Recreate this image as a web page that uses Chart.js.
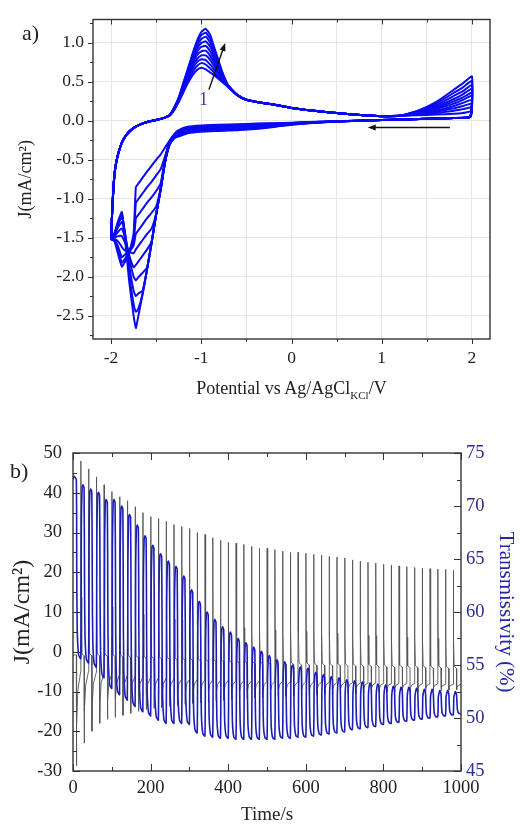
<!DOCTYPE html>
<html><head><meta charset="utf-8">
<script src="https://cdn.jsdelivr.net/npm/chart.js@4.4.1/dist/chart.umd.min.js"></script>
<style>
html,body{margin:0;padding:0;background:#fff;}
body{width:520px;height:825px;overflow:hidden;position:relative;font-family:'Liberation Serif','Times New Roman',serif;color:#222;}
canvas{position:absolute;left:0;}
#ca{top:0;} #cb{top:400px;}
.lbl{position:absolute;line-height:1;white-space:nowrap;}
</style></head>
<body>
<canvas id="ca" width="520" height="400"></canvas>
<canvas id="cb" width="520" height="425"></canvas>
<div class="lbl" style="left:22px;top:22px;font-size:22px;">a)</div>
<div class="lbl" style="left:10px;top:460px;font-size:22px;">b)</div>
<div class="lbl" style="left:93px;width:397px;top:379px;font-size:18px;text-align:center;">Potential vs Ag/AgCl<span style="font-size:11px;position:relative;top:5px;">KCl</span>/V</div>
<script>
// ---------------- Panel a: cyclic voltammograms ----------------
const xTickValsA = [-2, -1.5, -1, -0.5, 0, 0.5, 1, 1.5, 2];
const xTickLabelsA = ['-2', '', '-1', '', '0', '', '1', '', '2'];
const yTickValsA = [-2.75, -2.5, -2.25, -2, -1.75, -1.5, -1.25, -1, -0.75, -0.5, -0.25, 0, 0.25, 0.5, 0.75, 1, 1.25];
const yTickLabelsA = ['', '-2.5', '', '-2.0', '', '-1.5', '', '-1.0', '', '-0.5', '', '0.0', '', '0.5', '', '1.0', ''];

// anodic start, common to all cycles
const cvUpV = [-2.0, -1.985, -1.97, -1.95, -1.92, -1.88, -1.83, -1.76, -1.68, -1.58, -1.5, -1.42, -1.35];
const cvUpJ = [-1.52, -1.1, -0.8, -0.58, -0.42, -0.28, -0.18, -0.1, -0.05, -0.01, 0.01, 0.035, 0.07];
// anodic peak, one row per cycle (1 -> last)
const cvPeakV = [-1.3, -1.25, -1.2, -1.15, -1.1, -1.05, -1.0, -0.95, -0.9, -0.85, -0.8, -0.75, -0.7, -0.6, -0.5, -0.4];
const cvPeakJ = [
  [0.14, 0.24, 0.36, 0.48, 0.58, 0.65, 0.68, 0.66, 0.62, 0.58, 0.53, 0.48, 0.43, 0.33, 0.27, 0.245],
  [0.14, 0.25, 0.38, 0.51, 0.62, 0.70, 0.74, 0.72, 0.67, 0.61, 0.55, 0.49, 0.43, 0.33, 0.27, 0.245],
  [0.15, 0.26, 0.40, 0.54, 0.66, 0.75, 0.79, 0.78, 0.72, 0.65, 0.58, 0.51, 0.44, 0.33, 0.27, 0.245],
  [0.15, 0.26, 0.41, 0.56, 0.70, 0.79, 0.84, 0.84, 0.78, 0.69, 0.60, 0.52, 0.44, 0.33, 0.27, 0.245],
  [0.15, 0.27, 0.42, 0.58, 0.73, 0.84, 0.89, 0.90, 0.83, 0.73, 0.63, 0.53, 0.44, 0.33, 0.27, 0.245],
  [0.16, 0.27, 0.43, 0.60, 0.76, 0.88, 0.95, 0.96, 0.89, 0.77, 0.65, 0.54, 0.45, 0.33, 0.27, 0.245],
  [0.16, 0.28, 0.44, 0.62, 0.79, 0.92, 1.00, 1.02, 0.95, 0.81, 0.68, 0.55, 0.45, 0.33, 0.27, 0.245],
  [0.16, 0.29, 0.46, 0.63, 0.81, 0.96, 1.05, 1.08, 1.00, 0.85, 0.70, 0.56, 0.45, 0.33, 0.27, 0.245],
  [0.17, 0.29, 0.47, 0.65, 0.83, 0.99, 1.10, 1.13, 1.05, 0.89, 0.72, 0.57, 0.45, 0.33, 0.27, 0.245],
  [0.17, 0.30, 0.48, 0.66, 0.85, 1.02, 1.14, 1.18, 1.10, 0.92, 0.74, 0.57, 0.45, 0.33, 0.27, 0.245]
];
// plateau, common
const cvMidV = [-0.3, -0.2, 0, 0.2, 0.5, 0.8, 1.0, 1.2];
const cvMidJ = [0.225, 0.21, 0.165, 0.135, 0.1, 0.07, 0.06, 0.065];
// oxygen-evolution tail per cycle
const cvEndV = [1.4, 1.6, 1.8, 1.9, 2.0];
const cvEndJ = [
  [0.07, 0.08, 0.09, 0.10, 0.12],
  [0.08, 0.10, 0.13, 0.15, 0.17],
  [0.085, 0.115, 0.16, 0.19, 0.22],
  [0.09, 0.13, 0.19, 0.23, 0.27],
  [0.10, 0.15, 0.22, 0.27, 0.32],
  [0.105, 0.165, 0.25, 0.30, 0.36],
  [0.11, 0.18, 0.28, 0.34, 0.41],
  [0.12, 0.20, 0.32, 0.38, 0.46],
  [0.125, 0.22, 0.36, 0.43, 0.51],
  [0.13, 0.24, 0.40, 0.48, 0.57]
];
// reverse scan per cycle
const cvRetV = [1.98, 1.8, 1.5, 1.0, 0.5, 0.2, 0.0, -0.2, -0.4, -0.6, -0.8, -1.0, -1.15, -1.25];
const cvRetJ = [
  [0.05, 0.035, 0.025, 0.010, -0.005, -0.015, -0.025, -0.030, -0.035, -0.045, -0.050, -0.060, -0.075, -0.12],
  [0.05, 0.035, 0.025, 0.010, -0.006, -0.017, -0.028, -0.036, -0.044, -0.053, -0.059, -0.069, -0.084, -0.13],
  [0.05, 0.035, 0.025, 0.010, -0.006, -0.019, -0.031, -0.041, -0.052, -0.061, -0.068, -0.078, -0.093, -0.14],
  [0.05, 0.035, 0.025, 0.010, -0.007, -0.021, -0.034, -0.047, -0.060, -0.069, -0.077, -0.087, -0.102, -0.15],
  [0.05, 0.035, 0.025, 0.010, -0.007, -0.023, -0.037, -0.052, -0.068, -0.078, -0.086, -0.096, -0.111, -0.155],
  [0.05, 0.035, 0.025, 0.010, -0.008, -0.024, -0.040, -0.058, -0.075, -0.086, -0.095, -0.105, -0.120, -0.16],
  [0.05, 0.035, 0.025, 0.010, -0.008, -0.026, -0.042, -0.063, -0.083, -0.095, -0.104, -0.114, -0.130, -0.17],
  [0.05, 0.035, 0.025, 0.010, -0.009, -0.027, -0.045, -0.069, -0.090, -0.103, -0.113, -0.123, -0.140, -0.18],
  [0.05, 0.035, 0.025, 0.010, -0.009, -0.029, -0.048, -0.074, -0.098, -0.112, -0.122, -0.132, -0.150, -0.19],
  [0.05, 0.035, 0.025, 0.010, -0.010, -0.030, -0.050, -0.080, -0.105, -0.120, -0.130, -0.140, -0.160, -0.20]
];
// cathodic peak region per cycle
const cvCathV = [-1.3, -1.35, -1.4, -1.45, -1.5, -1.55, -1.6, -1.65, -1.7, -1.725, -1.75, -1.8, -1.85, -1.88, -1.92, -1.96, -2.0];
const cvCathJ = [
  [-0.17, -0.25, -0.34, -0.43, -0.50, -0.575, -0.65, -0.73, -0.81, -0.85, -1.45, -1.70, -1.82, -1.87, -1.72, -1.55, -1.52],
  [-0.18, -0.26, -0.45, -0.62, -0.70, -0.78, -0.85, -0.93, -1.01, -1.05, -1.50, -1.68, -1.78, -1.82, -1.68, -1.54, -1.52],
  [-0.19, -0.27, -0.48, -0.80, -0.90, -0.98, -1.05, -1.13, -1.21, -1.25, -1.55, -1.68, -1.72, -1.75, -1.62, -1.53, -1.52],
  [-0.20, -0.28, -0.50, -0.86, -1.10, -1.18, -1.25, -1.33, -1.41, -1.45, -1.60, -1.68, -1.66, -1.62, -1.55, -1.52, -1.52],
  [-0.21, -0.29, -0.51, -0.87, -1.19, -1.38, -1.45, -1.53, -1.61, -1.65, -1.70, -1.68, -1.55, -1.48, -1.48, -1.50, -1.52],
  [-0.21, -0.30, -0.52, -0.88, -1.20, -1.55, -1.65, -1.73, -1.81, -1.85, -1.88, -1.72, -1.48, -1.38, -1.42, -1.48, -1.52],
  [-0.22, -0.30, -0.52, -0.88, -1.20, -1.56, -1.88, -1.95, -2.01, -2.05, -2.00, -1.75, -1.42, -1.30, -1.36, -1.46, -1.52],
  [-0.22, -0.30, -0.52, -0.88, -1.20, -1.56, -1.90, -2.18, -2.22, -2.25, -2.18, -1.85, -1.40, -1.24, -1.32, -1.45, -1.52],
  [-0.22, -0.30, -0.52, -0.88, -1.20, -1.56, -1.90, -2.22, -2.42, -2.45, -2.35, -1.95, -1.42, -1.20, -1.30, -1.44, -1.52],
  [-0.22, -0.30, -0.52, -0.88, -1.20, -1.56, -1.90, -2.22, -2.52, -2.66, -2.50, -2.05, -1.45, -1.17, -1.28, -1.43, -1.52]
];
// annotations (data coordinates)
const arrowCycle = {from: [-0.915, 0.40], to: [-0.735, 1.0], label: '1', labelAt: [-0.975, 0.26]};
const arrowScan = {from: [1.755, -0.085], to: [0.845, -0.085]};

// ---------------- Panel b: chronoamperometry + transmittance ----------------
const xTickValsB = [0, 100, 200, 300, 400, 500, 600, 700, 800, 900, 1000];
const xTickLabelsB = ['0', '', '200', '', '400', '', '600', '', '800', '', '1000'];
const yTickValsB = [-30, -25, -20, -15, -10, -5, 0, 5, 10, 15, 20, 25, 30, 35, 40, 45, 50];
const yTickLabelsB = ['-30', '', '-20', '', '-10', '', '0', '', '10', '', '20', '', '30', '', '40', '', '50'];
const y1TickValsB = [45, 47.5, 50, 52.5, 55, 57.5, 60, 62.5, 65, 67.5, 70, 72.5, 75];
const y1TickLabelsB = ['45', '', '50', '', '55', '', '60', '', '65', '', '70', '', '75'];

const stepPeriod = 20;       // s, one colour/bleach cycle
const colourStart = 8.5;     // s, start of colouring step within a cycle
// positive (bleaching) current spikes, at t = 20, 40, ... 980 s
const posPeak = [48, 46, 44, 42, 40.3, 39, 38, 36.5, 35, 34, 33.5, 32.8, 32, 31.5, 31, 30, 29.5, 28.7, 28, 27.5,
  27.3, 27, 26.5, 26, 26, 25.7, 25.3, 25, 25, 24.8, 24.5, 24.3, 24, 23.8, 23.6, 23.1, 22.8, 22.5, 22.3, 22,
  21.8, 21.6, 21.4, 21.2, 21, 20.9, 20.8, 20.7, 20.5];
// negative (colouring) current spikes, at t = 8.5, 28.5, ... 988.5 s
const negPeak = [-28.7, -23, -20, -18, -17, -16.5, -16, -15.5, -15, -14.5, -14.2, -14, -13.7, -13.5, -13.2, -13, -12.8, -12.6, -12.4, -12.2,
  -12, -12, -11.8, -11.6, -11.5, -11.4, -11.3, -11.2, -11.1, -11, -11, -10.9, -10.8, -10.7, -10.6, -10.5, -10.5, -10.4, -10.3, -10.2,
  -10.2, -10.1, -10, -10, -10, -9.9, -9.8, -9.8, -9.7, -9.6];
// current level during bleaching plateau / at end of colouring
const greyHigh = [-0.8, -1, -1, -1, -1.1, -1.2, -1.3, -1.4, -1.5, -1.6, -1.7, -1.8, -1.9, -2, -2.1, -2.2, -2.3, -2.4, -2.5, -2.6,
  -2.7, -2.8, -2.9, -3, -3, -3.1, -3.1, -3.2, -3.2, -3.3, -3.3, -3.4, -3.4, -3.5, -3.5, -3.6, -3.6, -3.7, -3.7, -3.8,
  -3.8, -3.9, -3.9, -4, -4, -4, -4.1, -4.1, -4.2, -4.2];
const greyLow = [-5, -5, -5.2, -5.4, -5.6, -5.8, -6, -6.2, -6.4, -6.5, -6.6, -6.7, -6.8, -6.9, -7, -7, -7.1, -7.1, -7.2, -7.2,
  -7.3, -7.3, -7.4, -7.4, -7.5, -7.5, -7.5, -7.6, -7.6, -7.6, -7.7, -7.7, -7.7, -7.8, -7.8, -7.8, -7.9, -7.9, -7.9, -8,
  -8, -8, -8, -8, -8.1, -8.1, -8.1, -8.2, -8.2, -8.2];
// transmissivity maxima (bleached) and minima (coloured) for each of the 50 cycles
const transMax = [72.8, 72.0, 71.6, 71.3, 70.6, 70.6, 70.0, 69.2, 68.2, 67.2, 66.3, 65.5, 64.8, 64.3, 63.4, 62.1, 61.0, 60.0, 59.3, 58.6,
  58.1, 57.5, 57.1, 56.7, 56.3, 55.9, 55.5, 55.3, 55.0, 54.8, 54.7, 54.3, 54.1, 53.9, 53.8, 53.6, 53.5, 53.4, 53.3, 53.2,
  53.1, 53.0, 52.9, 52.9, 52.8, 52.7, 52.7, 52.6, 52.6, 52.5];
const transMin = [55.6, 55.2, 54.8, 53.8, 52.8, 52.2, 51.7, 51.1, 50.6, 50.2, 49.8, 49.5, 49.5, 49.5, 49.4, 48.6, 48.3, 48.2, 48.1, 48.1,
  48.0, 48.0, 48.0, 48.0, 48.0, 48.0, 48.1, 48.1, 48.2, 48.2, 48.3, 48.4, 48.5, 48.6, 48.7, 48.9, 49.0, 49.1, 49.2, 49.4,
  49.5, 49.6, 49.7, 49.8, 49.9, 50.0, 50.1, 50.2, 50.3, 50.4];

// ---------------- helpers ----------------
const SERIF = "'Liberation Serif','Times New Roman',serif";
function fixedTicks(vals) { return (s) => { s.ticks = vals.map(v => ({value: v})); }; }

const frameTicks = {
  id: 'frameTicks',
  afterDatasetsDraw(chart, args, o) {
    const ctx = chart.ctx, a = chart.chartArea;
    ctx.save();
    ctx.strokeStyle = o.color; ctx.lineWidth = 1;
    for (const spec of o.axes) {
      const s = chart.scales[spec.id];
      s.ticks.forEach((t, i) => {
        const len = spec.labels[i] !== '' ? o.majorLen : o.minorLen;
        const p = Math.round(s.getPixelForValue(t.value)) + 0.5;
        spec.sides.forEach(([side, dir]) => {
          const d = dir === 'in' ? 1 : -1;
          ctx.beginPath();
          if (side === 'bottom') { ctx.moveTo(p, a.bottom); ctx.lineTo(p, a.bottom - d * len); }
          if (side === 'top') { ctx.moveTo(p, a.top); ctx.lineTo(p, a.top + d * len); }
          if (side === 'left') { ctx.moveTo(a.left, p); ctx.lineTo(a.left + d * len, p); }
          if (side === 'right') { ctx.moveTo(a.right, p); ctx.lineTo(a.right - d * len, p); }
          ctx.stroke();
        });
      });
    }
    ctx.lineWidth = o.width;
    ctx.strokeRect(a.left, a.top, a.right - a.left, a.bottom - a.top);
    ctx.restore();
  }
};

const cvArrows = {
  id: 'cvArrows',
  afterDatasetsDraw(chart) {
    const ctx = chart.ctx, xs = chart.scales.x, ys = chart.scales.y;
    const P = (pt) => [xs.getPixelForValue(pt[0]), ys.getPixelForValue(pt[1])];
    function arrow(f, t) {
      const [x1, y1] = P(f), [x2, y2] = P(t);
      const ang = Math.atan2(y2 - y1, x2 - x1), L = 8, W = 3;
      ctx.beginPath(); ctx.moveTo(x1, y1);
      ctx.lineTo(x2 - L * 0.8 * Math.cos(ang), y2 - L * 0.8 * Math.sin(ang)); ctx.stroke();
      ctx.beginPath(); ctx.moveTo(x2, y2);
      ctx.lineTo(x2 - L * Math.cos(ang) + W * Math.sin(ang), y2 - L * Math.sin(ang) - W * Math.cos(ang));
      ctx.lineTo(x2 - L * Math.cos(ang) - W * Math.sin(ang), y2 - L * Math.sin(ang) + W * Math.cos(ang));
      ctx.closePath(); ctx.fill();
    }
    ctx.save();
    ctx.strokeStyle = '#111'; ctx.fillStyle = '#111'; ctx.lineWidth = 1.4;
    arrow(arrowCycle.from, arrowCycle.to);
    arrow(arrowScan.from, arrowScan.to);
    const [lx, ly] = P(arrowCycle.labelAt);
    ctx.fillStyle = '#3a3aa8'; ctx.font = '18px ' + SERIF; ctx.textAlign = 'center'; ctx.textBaseline = 'middle';
    ctx.fillText(arrowCycle.label, lx, ly);
    ctx.restore();
  }
};

// ---------------- build panel a ----------------
const cvSets = cvPeakJ.map((row, k) => {
  const pts = [];
  cvUpV.forEach((v, i) => pts.push({x: v, y: cvUpJ[i]}));
  cvPeakV.forEach((v, i) => pts.push({x: v, y: cvPeakJ[k][i]}));
  cvMidV.forEach((v, i) => pts.push({x: v, y: cvMidJ[i]}));
  cvEndV.forEach((v, i) => pts.push({x: v, y: cvEndJ[k][i]}));
  cvRetV.forEach((v, i) => pts.push({x: v, y: cvRetJ[k][i]}));
  cvCathV.forEach((v, i) => pts.push({x: v, y: cvCathJ[k][i]}));
  return {label: 'cycle ' + (k + 1), data: pts, borderColor: '#0a0af2', borderWidth: 2,
          pointRadius: 0, tension: 0.15, fill: false};
});

new Chart(document.getElementById('ca'), {
  type: 'line',
  data: {datasets: cvSets},
  options: {
    responsive: false, animation: false, parsing: false,
    layout: {padding: {left: 0, right: 30, top: 15, bottom: 0}},
    plugins: {legend: {display: false}, tooltip: {enabled: false}, frameTicks: {
      color: '#333', width: 1.4, majorLen: 5, minorLen: 3,
      axes: [{id: 'x', labels: xTickLabelsA, sides: [['bottom', 'out'], ['top', 'in']]},
             {id: 'y', labels: yTickLabelsA, sides: [['left', 'out']]}]}},
    scales: {
      x: {type: 'linear', min: -2.2, max: 2.2, afterBuildTicks: fixedTicks(xTickValsA),
          afterFit: (s) => { s.height = 61; },
          ticks: {autoSkip: false, maxRotation: 0, padding: 9, color: '#222',
                  font: {family: SERIF, size: 17.5}, callback: (v, i) => xTickLabelsA[i]},
          grid: {drawTicks: false, color: '#e6e6e6', lineWidth: 1}, border: {display: false}},
      y: {type: 'linear', min: -2.8, max: 1.3, afterBuildTicks: fixedTicks(yTickValsA),
          afterFit: (s) => { s.width = 93; },
          ticks: {autoSkip: false, padding: 9, color: '#222',
                  font: {family: SERIF, size: 17.5}, callback: (v, i) => yTickLabelsA[i]},
          grid: {drawTicks: false, lineWidth: 1,
                 color: (c) => (yTickLabelsA[c.index] ? '#e6e6e6' : 'rgba(0,0,0,0)')},
          border: {display: false},
          title: {display: true, text: 'J(mA/cm²)', color: '#222',
                  font: {family: SERIF, size: 18, lineHeight: 1}, padding: {top: 16.8, bottom: 0}}}
    }
  },
  plugins: [frameTicks, cvArrows]
});

// ---------------- build panel b ----------------
const currentPts = [{x: 0, y: greyHigh[0]}];
const transPts = [{x: 0, y: transMax[0] - 0.3}, {x: 3, y: transMax[0]}];
for (let k = 0; k < negPeak.length; k++) {
  const N = k * stepPeriod + colourStart, P = (k + 1) * stepPeriod;
  const neg = negPeak[k], lo = greyLow[k];
  currentPts.push({x: N, y: greyHigh[k]}, {x: N + 0.3, y: neg},
                  {x: N + 1.2, y: 0.55 * neg + 0.45 * lo}, {x: N + 4, y: 0.2 * neg + 0.8 * lo});
  const M = transMax[k], m = transMin[k];
  transPts.push({x: N, y: M - 0.3}, {x: N + 1.2, y: m + 0.45 * (M - m)},
                {x: N + 2.5, y: m + 0.15 * (M - m)}, {x: N + 6, y: m + 0.02 * (M - m)});
  if (k < posPeak.length) {
    const pos = posPeak[k], hi = greyHigh[k + 1], M2 = transMax[k + 1];
    currentPts.push({x: P - 0.2, y: lo}, {x: P + 0.3, y: pos},
                    {x: P + 1.0, y: 0.3 * pos + 0.7 * hi}, {x: P + 2.5, y: hi + 0.5});
    transPts.push({x: P, y: m}, {x: P + 1.5, y: m + 0.75 * (M2 - m)},
                  {x: P + 3.5, y: M2 - 0.25}, {x: P + 5.5, y: M2});
  } else {
    currentPts.push({x: 1000, y: lo});
    transPts.push({x: 1000, y: m});
  }
}

new Chart(document.getElementById('cb'), {
  type: 'line',
  data: {datasets: [
    {label: 'Transmissivity', data: transPts, yAxisID: 'y1', borderColor: '#1c1cb8', borderWidth: 1.6,
     pointRadius: 0, tension: 0.2, order: 0},
    {label: 'J', data: currentPts, yAxisID: 'y', borderColor: '#555', borderWidth: 0.9,
     pointRadius: 0, tension: 0, order: 1}
  ]},
  options: {
    responsive: false, animation: false, parsing: false,
    layout: {padding: {left: 0, right: 0, top: 53, bottom: 0}},
    plugins: {legend: {display: false}, tooltip: {enabled: false}, frameTicks: {
      color: '#333', width: 1.4, majorLen: 7, minorLen: 4,
      axes: [{id: 'x', labels: xTickLabelsB, sides: [['bottom', 'in'], ['top', 'in']]},
             {id: 'y', labels: yTickLabelsB, sides: [['left', 'in']]},
             {id: 'y1', labels: y1TickLabelsB, sides: [['right', 'in']]}]}},
    scales: {
      x: {type: 'linear', min: 0, max: 1000, afterBuildTicks: fixedTicks(xTickValsB),
          afterFit: (s) => { s.height = 54; },
          ticks: {autoSkip: false, maxRotation: 0, padding: 5.6, color: '#222',
                  font: {family: SERIF, size: 18.5}, callback: (v, i) => xTickLabelsB[i]},
          grid: {display: false, drawTicks: false}, border: {display: false},
          title: {display: true, text: 'Time/s', color: '#222',
                  font: {family: SERIF, size: 19, lineHeight: 1}, padding: {top: 0, bottom: 0}}},
      y: {type: 'linear', position: 'left', min: -30, max: 50, afterBuildTicks: fixedTicks(yTickValsB),
          afterFit: (s) => { s.width = 73; },
          ticks: {autoSkip: false, padding: 11, color: '#222',
                  font: {family: SERIF, size: 18.5}, callback: (v, i) => yTickLabelsB[i]},
          grid: {display: false, drawTicks: false}, border: {display: false},
          title: {display: true, text: 'J(mA/cm²)', color: '#222',
                  font: {family: SERIF, size: 24, lineHeight: 1}, padding: {top: 10.5, bottom: 0}}},
      y1: {type: 'linear', position: 'right', min: 45, max: 75, afterBuildTicks: fixedTicks(y1TickValsB),
          afterFit: (s) => { s.width = 59; },
          ticks: {autoSkip: false, padding: 5, color: '#2c2c96',
                  font: {family: SERIF, size: 18.5}, callback: (v, i) => y1TickLabelsB[i]},
          grid: {display: false, drawTicks: false}, border: {display: false},
          title: {display: true, text: 'Transmissivity (%)', color: '#2525a8',
                  font: {family: SERIF, size: 21, lineHeight: 1}, padding: {top: 3.5, bottom: 0}}}
    }
  },
  plugins: [frameTicks]
});
</script>
</body></html>
